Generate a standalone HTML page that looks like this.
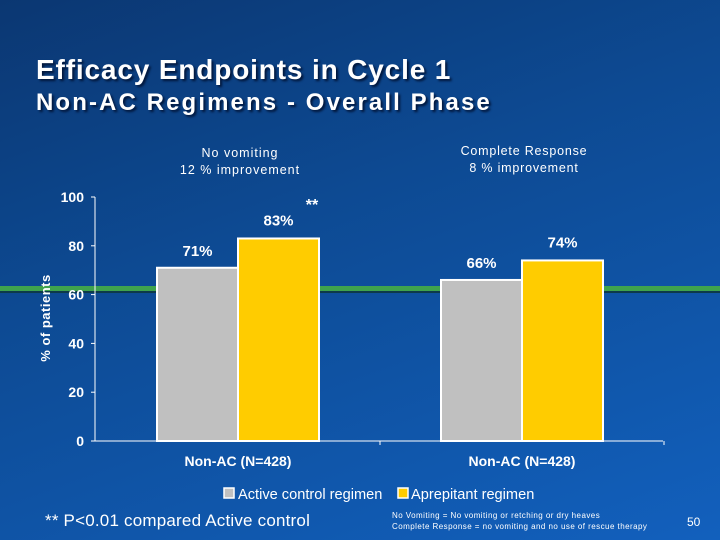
<!DOCTYPE html>
<html><head><meta charset="utf-8"><style>
body{margin:0}
#s{position:relative;width:720px;height:540px;overflow:hidden;font-family:"Liberation Sans",sans-serif;color:#fff;
background:linear-gradient(160deg,#0b3772 0%,#0d4a93 40%,#1260bd 100%)}
.t{position:absolute;white-space:nowrap;font-weight:bold}
</style></head><body>
<div id="s">
<div class="t" style="left:36px;top:54px;font-size:28px;letter-spacing:0.85px;text-shadow:2px 2px 2px #02163a">Efficacy Endpoints in Cycle 1</div>
<div class="t" style="left:36px;top:89px;font-size:24px;letter-spacing:2.1px;text-shadow:2px 2px 2px #02163a">Non-AC Regimens - Overall Phase</div>
<div class="t" style="left:140px;top:145px;width:200px;text-align:center;font-size:12.5px;line-height:17px;letter-spacing:1px;font-weight:normal">No vomiting<br>12 % improvement</div>
<div class="t" style="left:424px;top:143px;width:200px;text-align:center;font-size:12.5px;line-height:17px;letter-spacing:0.8px;font-weight:normal">Complete Response<br>8 % improvement</div>
<svg id="c" width="720" height="540" style="position:absolute;left:0;top:0"></svg>
<div class="t" style="left:45px;top:511px;font-size:17px;letter-spacing:0.2px;font-weight:normal">** P&lt;0.01 compared Active control</div>
<div class="t" style="left:392px;top:510px;font-size:8px;line-height:11px;letter-spacing:0.45px;font-weight:normal">No Vomiting = No vomiting or retching or dry heaves<br>Complete Response = no vomiting and no use of rescue therapy</div>
<div class="t" style="left:687px;top:515px;font-size:12px;font-weight:normal">50</div>
</div>
<script>
const categories=["Non-AC (N=428)","Non-AC (N=428)"];
const activeValues=[71,66];
const aprepitantValues=[83,74];
const yTicks=[0,20,40,60,80,100];
const seriesNames=["Active control regimen","Aprepitant regimen"];
const NS="http://www.w3.org/2000/svg";
const svg=document.getElementById('c');
const x0=95,x1=663,yb=441,yt=197;
const y=v=>yb-(v/100)*(yb-yt);
const groupCenter=i=>238+i*284;
function el(tag,attrs,parent){const e=document.createElementNS(NS,tag);for(const k in attrs)e.setAttribute(k,attrs[k]);(parent||svg).appendChild(e);return e;}
let g=el('rect',{x:0,y:286,width:720,height:5,fill:'#3fa34d'});


let gd=el('rect',{x:0,y:291,width:720,height:2,fill:'#0d3a4a'});


let ya=el('line',{x1:x0,y1:yt,x2:x0,y2:yb,stroke:'#fff','stroke-width':1});


let xa=el('line',{x1:x0-4,y1:yb,x2:x1,y2:yb,stroke:'#fff','stroke-width':1});


yTicks.forEach(t=>{
  let tk=el('line',{x1:x0-4,y1:y(t),x2:x0,y2:y(t),stroke:'#fff'});
  
  
  let tl=el('text',{x:84,y:y(t)+5,'text-anchor':'end','font-size':14,'font-weight':'bold',fill:'#fff'});
  tl.textContent=t;
  
  
});
[0,1].forEach(i=>{
  let tk=el('line',{x1:groupCenter(i)+142,y1:yb,x2:groupCenter(i)+142,y2:yb+4,stroke:'#fff'});
  
  
});
let yt2=el('text',{transform:'translate(50,318) rotate(-90)','text-anchor':'middle','font-size':13,'font-weight':'bold',fill:'#fff','letter-spacing':0.5});
yt2.textContent='% of patients';


const bw=81;
categories.forEach((c,i)=>{
  const cx=groupCenter(i);
  [[activeValues[i],'#c0c0c0',cx-bw,'bar-active'],[aprepitantValues[i],'#ffcc00',cx,'bar-aprepitant']].forEach(([v,col,bx,nm])=>{
    let b=el('rect',{x:bx,y:y(v),width:bw,height:yb-y(v),fill:col,stroke:'#fff','stroke-width':2});
    
    
  });
  let l1=el('text',{x:cx-bw/2,y:y(activeValues[i])-12,'text-anchor':'middle','font-size':15,'font-weight':'bold',fill:'#fff'});
  l1.textContent=activeValues[i]+'%';
  
  
  let l2=el('text',{x:cx+bw/2,y:y(aprepitantValues[i])-13,'text-anchor':'middle','font-size':15,'font-weight':'bold',fill:'#fff'});
  l2.textContent=aprepitantValues[i]+'%';
  
  
  let cl=el('text',{x:cx,y:466,'text-anchor':'middle','font-size':14,'font-weight':'bold',fill:'#fff'});
  cl.textContent=c;
  
  
});
let st=el('text',{x:312,y:210,'text-anchor':'middle','font-size':16,'font-weight':'bold',fill:'#fff'});
st.textContent='**';


[[224,'#c0c0c0',238,seriesNames[0]],[398,'#ffcc00',411,seriesNames[1]]].forEach(([lx,col,tx,name])=>{
  let sw=el('rect',{x:lx,y:488,width:10,height:10,fill:col,stroke:'#fff','stroke-width':1.5});
  
  
  let lt=el('text',{x:tx,y:499,'font-size':14.6,fill:'#fff'});
  lt.textContent=name;
  
  
});
</script>
</body></html>
